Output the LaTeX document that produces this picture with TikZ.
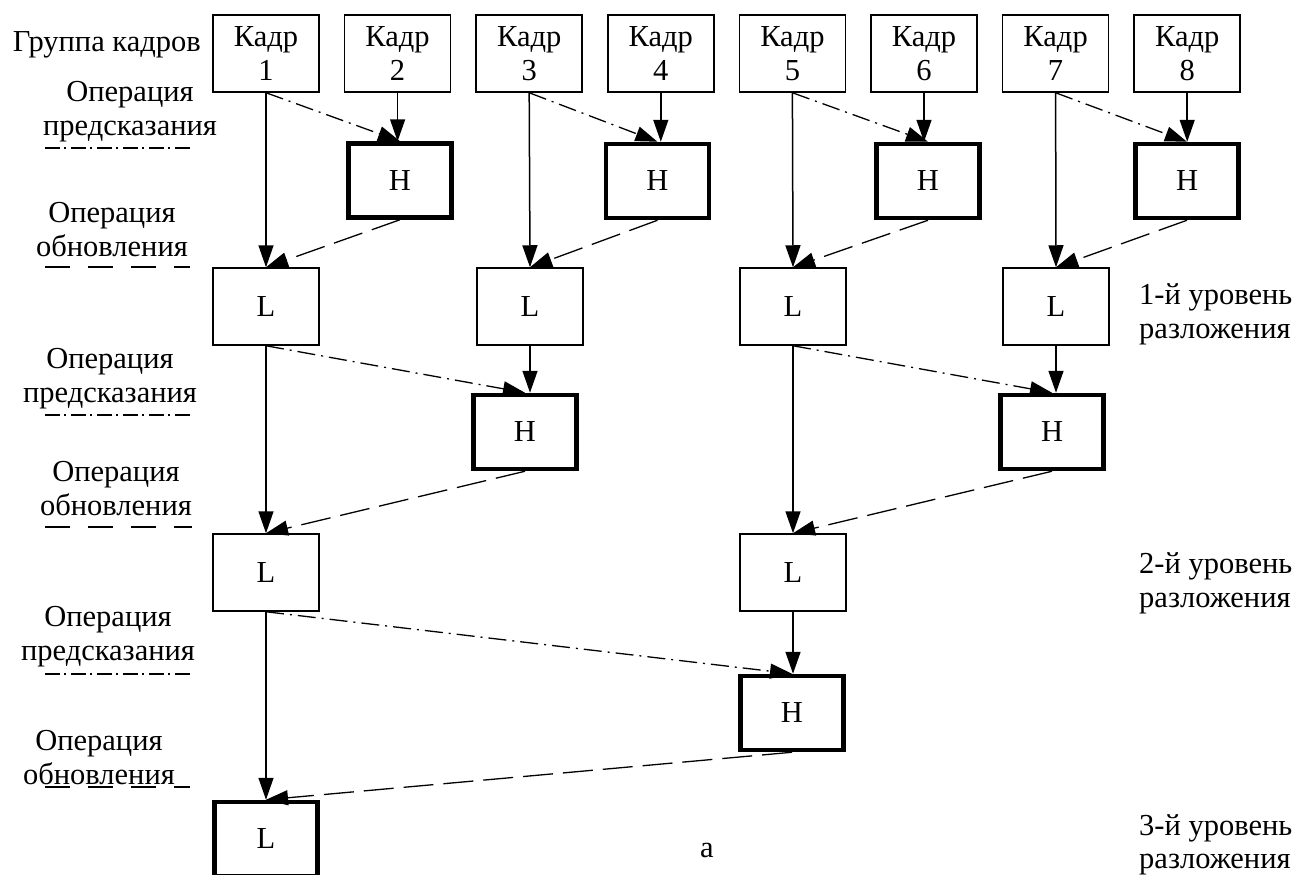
\documentclass[tikz,border=0pt]{standalone}
\usepackage{fontspec}
\setmainfont{Liberation Serif}
\newfontfamily\myserif{Liberation Serif}
\usetikzlibrary{arrows.meta}
\begin{document}
\begin{tikzpicture}[x=1pt,y=-1pt,
  every node/.style={font=\myserif\fontsize{30.5}{34}\selectfont},
  box/.style={draw, line width=1.5pt, minimum width=106pt, minimum height=77pt, inner sep=0pt, align=center},
  hbox/.style={draw, line width=4.5pt, minimum width=103pt, minimum height=74pt, inner sep=0pt, align=center},
  lab/.style={align=center, inner sep=0pt},
  rlab/.style={align=left, inner sep=0pt, anchor=west},
  tip/.style={-{Triangle[length=22pt,width=15pt]}},
  solidarr/.style={tip, line width=1.5pt},
  predarr/.style={tip, line width=1.3pt, dash pattern=on 18pt off 6pt on 2pt off 6pt},
  updarr/.style={tip, line width=1.3pt, dash pattern=on 30pt off 10pt},
  legpred/.style={line width=1.3pt, dash pattern=on 15pt off 4pt on 2pt off 5pt},
  legupd/.style={line width=1.3pt, dash pattern=on 25pt off 18pt}
]
\useasboundingbox (0,0) rectangle (1298,875);
\clip (0,0) rectangle (1298,875);

% frames
\foreach \i in {1,...,8} {
  \node[box] (K\i) at ({266+131.6*(\i-1)},53.5) {Кадр\\\i};
}
% level 1
\node[hbox] (H1a) at (400,180.5) {H};
\node[hbox] (H1b) at (657.5,181) {H};
\node[hbox] (H1c) at (928,181) {H};
\node[hbox] (H1d) at (1187,181) {H};
\node[box] (L1a) at (266,306.5) {L};
\node[box] (L1b) at (530,306.5) {L};
\node[box] (L1c) at (793,306.5) {L};
\node[box] (L1d) at (1056,306.5) {L};
% level 2
\node[hbox] (H2a) at (525,432) {H};
\node[hbox] (H2b) at (1052,432) {H};
\node[box] (L2a) at (266,572.5) {L};
\node[box] (L2b) at (793,572.5) {L};
% level 3
\node[hbox] (H3) at (792,713) {H};
\node[hbox] (L3) at (266,839) {L};

% connectors level 1
\foreach \a/\b/\h/\l in {K1/K2/H1a/L1a, K3/K4/H1b/L1b, K5/K6/H1c/L1c, K7/K8/H1d/L1d} {
  \draw[solidarr] (\a.south) -- (\l.north);
  \draw[solidarr] (\b.south) -- (\b.south |- \h.north);
  \draw[predarr] (\a.south) -- (\h.north);
  \draw[updarr] (\h.south) -- (\l.north);
}
% connectors level 2
\foreach \a/\b/\h/\l in {L1a/L1b/H2a/L2a, L1c/L1d/H2b/L2b} {
  \draw[solidarr] (\a.south) -- (\l.north);
  \draw[solidarr] (\b.south) -- (\b.south |- \h.north);
  \draw[predarr] (\a.south) -- (\h.north);
  \draw[updarr] (\h.south) -- (\l.north);
}
% connectors level 3
\draw[solidarr] (L2a.south) -- (L3.north);
\draw[solidarr] (L2b.south) -- (L2b.south |- H3.north);
\draw[predarr] (L2a.south) -- (H3.north);
\draw[updarr] (H3.south) -- (L3.north);

% left labels
\node[inner sep=0pt, anchor=base east] (grp) at (201,52) {Группа кадров};
\node[lab] (p1) at (130,112) {Операция\\предсказания};
\draw[legpred] (45,148) -- (193,148);
\node[lab] (u1) at (112,230) {Операция\\обновления};
\draw[legupd] (45,267) -- (190,267);
\node[lab] (p2) at (110,379) {Операция\\предсказания};
\draw[legpred] (45,415) -- (193,415);
\node[lab] (u2) at (116,489) {Операция\\обновления};
\draw[legupd] (45,527) -- (192,527);
\node[lab] (p3) at (108,637) {Операция\\предсказания};
\draw[legpred] (45,674) -- (193,674);
\node[lab] (u3) at (99,758) {Операция\\обновления};
\draw[legupd] (45,787) -- (190,787);

% right labels
\node[rlab] (r1) at (1139,314) {1-й уровень\\разложения};
\node[rlab] (r2) at (1139,583) {2-й уровень\\разложения};
\node[rlab, font=\myserif\fontsize{30.5}{33}\selectfont] (r3) at (1139,845) {3-й уровень\\разложения};
\node[inner sep=0pt] (cap) at (707,850) {а};
\end{tikzpicture}
\end{document}
